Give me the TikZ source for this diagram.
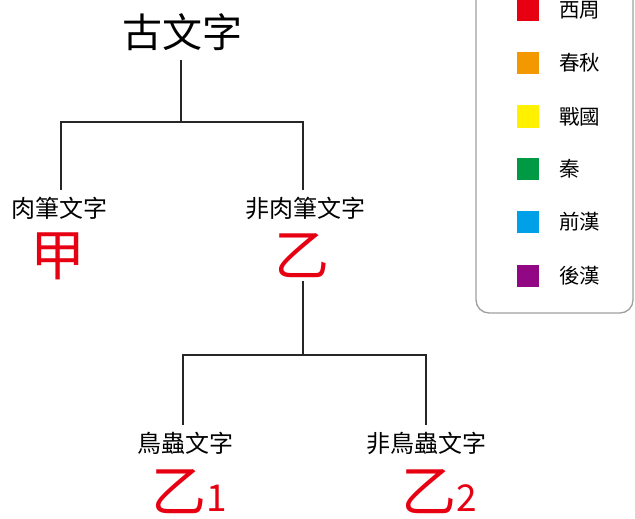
\documentclass[tikz,border=0pt]{standalone}
\usepackage{fontspec}
\setmainfont{Noto Sans CJK TC}
\definecolor{cred}{HTML}{E60012}
\definecolor{corange}{HTML}{F39800}
\definecolor{cyellow}{HTML}{FFF100}
\definecolor{cgreen}{HTML}{009944}
\definecolor{cblue}{HTML}{00A0E9}
\definecolor{cpurple}{HTML}{920783}
\begin{document}
\begin{tikzpicture}[x=1pt,y=-1pt,
  conn/.style={draw=black!85,line width=1.3pt},
  lab/.style={font=\fontsize{24}{24}\selectfont,inner sep=0pt},
  big/.style={font=\fontsize{55}{55}\selectfont,text=cred,inner sep=0pt},
  sw/.style={minimum size=22pt,inner sep=0pt,draw=none},
  leg/.style={font=\fontsize{20.5}{20.5}\selectfont,inner sep=0pt,anchor=west}]
\useasboundingbox (0,0) rectangle (635,519);
\begin{scope}
\clip (0,0) rectangle (635,519);
\draw[draw=gray!75,line width=1.3pt,rounded corners=13pt] (476,-30) rectangle (633,313);
\end{scope}
% legend
\foreach \c/\t/\y/\n in {cred/西周/10/a,corange/春秋/63/b,cyellow/戰國/116.5/c,cgreen/秦/169/d,cblue/前漢/222/e,cpurple/後漢/276/f}{
  \node[sw,fill=\c] (sq\n) at (528,\y) {};
  \node[leg] (lt\n) at (559,\y) {\t};
}
% tree
\node[font=\fontsize{40}{40}\selectfont,inner sep=0pt] (root) at (182,32) {古文字};
\coordinate (r0) at (181,60);
\coordinate (j1) at (181,122);
\coordinate (l1) at (61,122);
\coordinate (r1) at (303,122);
\coordinate (l1b) at (61,190);
\coordinate (r1b) at (303,190);
\draw[conn] (r0) -- (j1);
\draw[conn] (l1b) -- (l1) -- (r1) -- (r1b);
\node[lab] (A) at (60,208) {肉筆文字};
\node[big] (jia) at (58,256) {甲};
\node[lab] (B) at (305,208) {非肉筆文字};
\node[big] (yi) at (302,256) {乙};
\coordinate (y0) at (303,281);
\coordinate (j2) at (303,355);
\coordinate (l2) at (183,355);
\coordinate (r2) at (426,355);
\coordinate (l2b) at (183,425);
\coordinate (r2b) at (426,425);
\draw[conn] (y0) -- (j2);
\draw[conn] (l2b) -- (l2) -- (r2) -- (r2b);
\node[lab] (C) at (185,443) {鳥蟲文字};
\node[lab] (D) at (426,443) {非鳥蟲文字};
\node[big,anchor=base] (yi1) at (179,511) {乙};
\node[text=cred,font=\fontsize{37}{37}\selectfont,inner sep=0pt,anchor=base west] (n1) at (yi1.base east) {1};
\node[big,anchor=base] (yi2) at (429,511) {乙};
\node[text=cred,font=\fontsize{37}{37}\selectfont,inner sep=0pt,anchor=base west] (n2) at (yi2.base east) {2};
\end{tikzpicture}
\end{document}
